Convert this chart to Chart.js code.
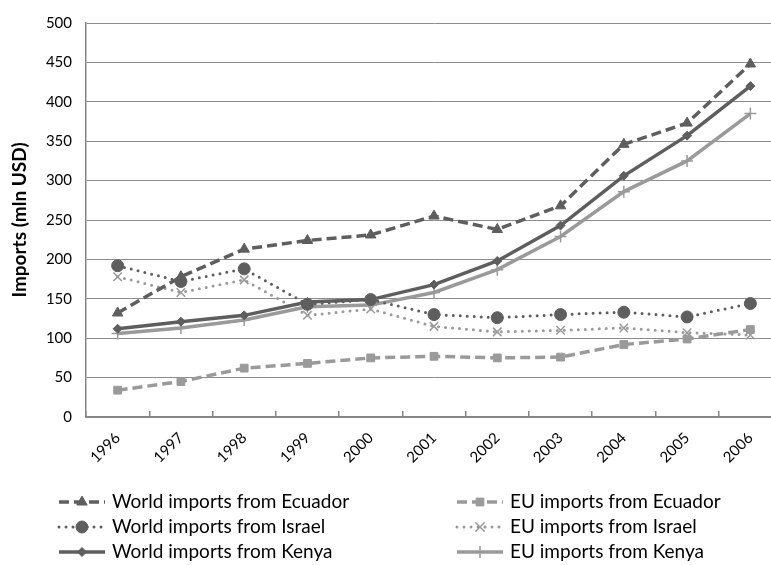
<!DOCTYPE html>
<html>
<head>
<meta charset="utf-8">
<script src="https://cdn.jsdelivr.net/npm/chart.js@4.4.0/dist/chart.umd.min.js"></script>
<style>
  html, body { margin: 0; padding: 0; background: #fff; overflow: hidden; }
  #wrap { width: 800px; height: 565px; position: relative; }
</style>
</head>
<body>
<div id="wrap"><canvas id="c"></canvas></div>
<script>
// Banana imports, million USD
const years = ['1996', '1997', '1998', '1999', '2000', '2001', '2002', '2003', '2004', '2005', '2006'];
const worldEcuador = [132, 178, 213, 224, 231, 255, 238, 268, 346, 373, 448];
const worldIsrael  = [192, 172, 188, 143, 149, 130, 126, 130, 133, 127, 144];
const worldKenya   = [112, 121, 129, 146, 149, 168, 198, 243, 306, 357, 420];
const euEcuador    = [34, 45, 62, 68, 75, 77, 75, 76, 92, 99, 111];
const euIsrael     = [178, 158, 174, 129, 137, 115, 108, 110, 113, 107, 104];
const euKenya      = [106, 113, 123, 140, 142, 158, 187, 229, 286, 325, 385];
const yTicks = [0, 50, 100, 150, 200, 250, 300, 350, 400, 450, 500];

const DARK = '#5e5e5e';
const LIGHT = '#9a9a9a';
const FONT = 'Lato, "DejaVu Sans", sans-serif';

function series(label, data, color, dash, style, radius, extra) {
  return Object.assign({
    label, data,
    borderColor: color,
    backgroundColor: color,
    pointBackgroundColor: color,
    pointBorderColor: color,
    borderWidth: 3.5,
    borderDash: dash,
    borderCapStyle: 'butt',
    pointStyle: style,
    pointRadius: radius,
    pointBorderWidth: 1,
    tension: 0,
    fill: false
  }, extra || {});
}

const datasets = [
  series('World imports from Ecuador', worldEcuador, DARK, [10, 5], 'triangle', 6),
  series('World imports from Israel', worldIsrael, DARK, [0, 7], 'circle', 6, { borderCapStyle: 'round', borderWidth: 3 }),
  series('World imports from Kenya', worldKenya, DARK, [], 'rectRot', 4.5),
  series('EU imports from Ecuador', euEcuador, LIGHT, [10, 5], 'rect', 5.5),
  series('EU imports from Israel', euIsrael, LIGHT, [0, 7], 'crossRot', 6, { borderCapStyle: 'round', borderWidth: 3, pointBorderWidth: 1.5 }),
  series('EU imports from Kenya', euKenya, LIGHT, [], 'cross', 6, { pointBorderWidth: 1.5 })
];

// Two-column legend drawn under the axis
const legendPlugin = {
  id: 'twoColLegend',
  afterDraw(chart) {
    const ctx = chart.ctx;
    const cols = [59, 457];
    const rows = [502, 527, 552];
    ctx.save();
    chart.data.datasets.forEach((ds, i) => {
      const x = cols[Math.floor(i / 3)];
      const y = rows[i % 3];
      ctx.strokeStyle = ds.borderColor;
      ctx.lineWidth = ds.borderWidth;
      ctx.lineCap = ds.borderCapStyle;
      ctx.setLineDash(ds.borderDash.length ? ds.borderDash : []);
      ctx.beginPath();
      ctx.moveTo(x, y);
      ctx.lineTo(x + 46, y);
      ctx.stroke();
      ctx.setLineDash([]);
      ctx.fillStyle = ds.pointBackgroundColor;
      ctx.strokeStyle = ds.pointBorderColor;
      ctx.lineWidth = ds.pointBorderWidth;
      Chart.helpers.drawPoint(ctx, {
        pointStyle: ds.pointStyle,
        radius: ds.pointRadius,
        borderWidth: ds.pointBorderWidth,
        rotation: 0
      }, x + 23, y);
      ctx.fillStyle = '#000';
      ctx.font = '19px ' + FONT;
      ctx.textBaseline = 'middle';
      ctx.textAlign = 'left';
      ctx.fillText(ds.label, x + 53, y);
    });
    ctx.restore();
  }
};

new Chart(document.getElementById('c'), {
  type: 'line',
  data: { labels: years, datasets },
  plugins: [legendPlugin],
  options: {
    responsive: true,
    maintainAspectRatio: false,
    animation: false,
    devicePixelRatio: 1,
    layout: { padding: { left: 0, top: 20, right: 18, bottom: 98 } },
    plugins: { legend: { display: false }, tooltip: { enabled: false } },
    scales: {
      x: {
        type: 'category',
        offset: true,
        afterFit(s) { s.height = 50; },
        grid: {
          offset: true,
          drawOnChartArea: false,
          drawTicks: true,
          tickLength: -6,
          color: '#868686',
          lineWidth: 1.5
        },
        border: { color: '#868686', width: 1.5 },
        ticks: {
          autoSkip: false,
          minRotation: 45,
          maxRotation: 45,
          padding: 18,
          color: '#000',
          font: { family: FONT, size: 15 }
        }
      },
      y: {
        min: 0,
        max: 500,
        afterFit(s) { s.width = 86; },
        afterBuildTicks(s) { s.ticks = yTicks.map(v => ({ value: v })); },
        grid: { color: '#8c8c8c', lineWidth: 1, drawTicks: false },
        border: { color: '#868686', width: 1.5 },
        ticks: {
          padding: 14,
          color: '#000',
          font: { family: FONT, size: 15 }
        },
        title: {
          display: true,
          text: 'Imports (mln USD)',
          color: '#000',
          font: { family: FONT, size: 19, weight: 'bold' },
          padding: { top: 8, bottom: 0 }
        }
      }
    }
  }
});
</script>
</body>
</html>
